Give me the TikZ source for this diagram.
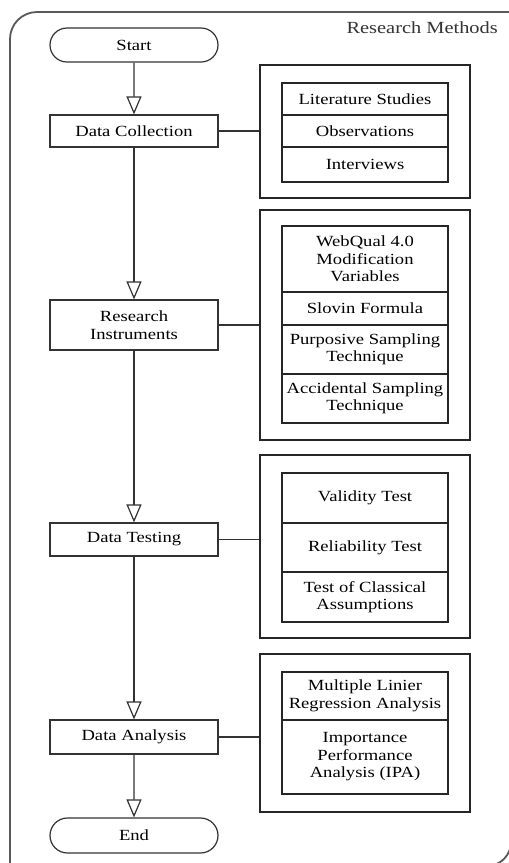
\documentclass[tikz,border=0pt]{standalone}
\usepackage{fontspec}
\setmainfont[FakeStretch=1.2]{Liberation Serif}
\usetikzlibrary{arrows.meta,shapes.misc}
\begin{document}
\begin{tikzpicture}[x=1pt,y=-1pt,
  every node/.style={font=\fontsize{15.5}{17.5}\selectfont, text=black, inner sep=0pt, align=center},
  term/.style={draw=black!80, line width=1.2pt, rounded rectangle, minimum width=168pt},
  proc/.style={draw=black!80, line width=1.2pt, rectangle, minimum width=168pt},
  outer/.style={draw=black!85, line width=1.3pt, rectangle, minimum width=210pt},
  inner/.style={draw=black!85, line width=1.2pt, rectangle, minimum width=166pt},
  flow/.style={draw=black!80, line width=1.2pt, -{Triangle[open, width=15pt, length=18pt]}},
  link/.style={draw=black!80, line width=1.2pt},
  frame/.style={draw=black!65, line width=1.8pt}]
\useasboundingbox (0,0) rectangle (509,863);
\fill[white] (0,0) rectangle (509,863);
% frame
\draw[frame, rounded corners=27pt] (10,900) -- (10,12) -- (560,12);
\draw[frame, rounded corners=24pt] (511,-20) -- (511,866) -- (-20,866);
\node[anchor=base east, text=black!80, font=\fontsize{17}{19}\selectfont] (title) at (498,33) {Research Methods};
% main flow
\node[term, minimum height=34pt] (start) at (134,45) {Start};
\node[proc, minimum height=32pt] (dc) at (134,131) {Data Collection};
\node[proc, minimum height=50pt] (ri) at (134,325) {Research\\Instruments};
\node[proc, minimum height=33pt] (dt) at (134,539.5) {Data Testing};
\node[proc, minimum height=34pt] (da) at (134,737) {Data Analysis};
\node[term, minimum height=35pt] (end) at (134,835.5) {End};
\draw[flow] (start) -- (dc);
\draw[flow] (dc) -- (ri);
\draw[flow] (ri) -- (dt);
\draw[flow] (dt) -- (da);
\draw[flow] (da) -- (end);
% outer boxes
\node[outer, minimum height=133pt] (o1) at (365,131.5) {};
\node[outer, minimum height=230pt] (o2) at (365,325) {};
\node[outer, minimum height=183pt] (o3) at (365,546.5) {};
\node[outer, minimum height=158pt] (o4) at (365,733) {};
\draw[link] (dc.east) -- (dc.east -| o1.west);
\draw[link] (ri.east) -- (ri.east -| o2.west);
\draw[link] (dt.east) -- (dt.east -| o3.west);
\draw[link] (da.east) -- (da.east -| o4.west);
% inner boxes
\node[inner, minimum height=32pt] (lit) at (365,99) {Literature Studies};
\node[inner, minimum height=32pt] (obs) at (365,131) {Observations};
\node[inner, minimum height=35pt] (int) at (365,164.5) {Interviews};
\node[inner, minimum height=66pt] (web) at (365,259) {WebQual 4.0\\Modification\\Variables};
\node[inner, minimum height=33pt] (slo) at (365,308.5) {Slovin Formula};
\node[inner, minimum height=49pt] (pur) at (365,349.5) {Purposive Sampling\\Technique};
\node[inner, minimum height=49pt] (acc) at (365,398.5) {Accidental Sampling\\Technique};
\node[inner, minimum height=50pt] (val) at (365,498) {Validity Test};
\node[inner, minimum height=49pt] (rel) at (365,547.5) {Reliability Test};
\node[inner, minimum height=50pt] (tca) at (365,597) {Test of Classical\\Assumptions};
\node[inner, minimum height=48pt] (mlr) at (365,696) {Multiple Linier\\Regression Analysis};
\node[inner, minimum height=74pt] (ipa) at (365,757) {Importance\\Performance\\Analysis (IPA)};
\end{tikzpicture}
\end{document}
